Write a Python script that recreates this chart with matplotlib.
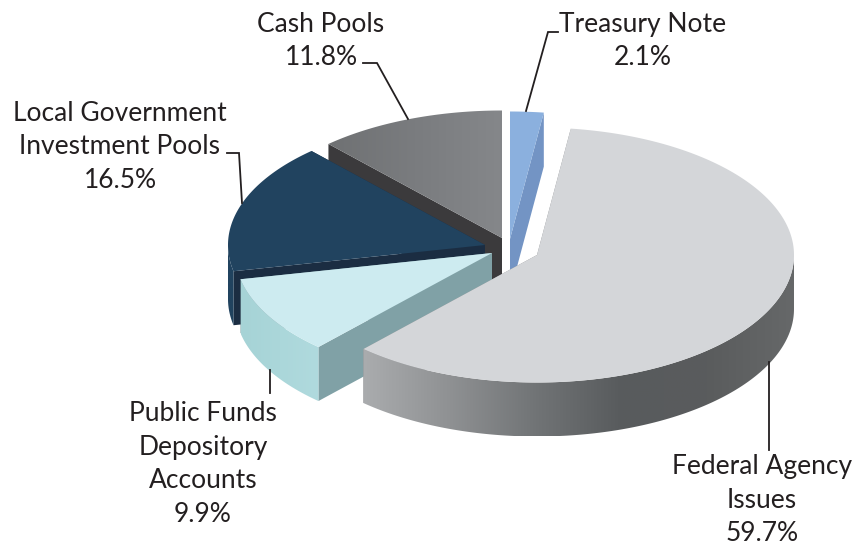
import numpy as np
import matplotlib
matplotlib.use("Agg")
import matplotlib.pyplot as plt
from matplotlib.colors import LinearSegmentedColormap
from matplotlib.patches import Polygon

# Data
categories = ["Treasury Note", "Federal Agency\nIssues", "Public Funds\nDepository\nAccounts",
              "Local Government\nInvestment Pools", "Cash Pools"]
values = [2.1, 59.7, 9.9, 16.5, 11.8]

# Style
apexes = [(510, 239), (537, 255), (492, 253), (485, 245), (502, 238)]
top_stops = [["#8bb0de", "#8bb0de"],
             ["#d4d6d9", "#d4d6d9"],
             ["#cdebf0", "#cdebf0"],
             ["#21435f", "#21435f"],
             ["#6f7173", "#7a7c7f", "#85878a"]]
cut_colors = ["#7394c4", "#8a8c8e", "#80a1a6", "#1b2d42", "#3b3a3c"]
side_stops = [["#7394c4", "#7394c4"],
              ["#aaacae", "#8f9193", "#717476", "#585b5d", "#5a5c5d", "#666869"],
              ["#a6d3d6", "#abd7da", "#b0dade"],
              ["#21435f", "#21435f"],
              ["#555555", "#555555"]]
draw_order = [4, 0, 3, 2, 1]
RX, RY, DEPTH = 257, 127.5, 54

label_pos = [(643, 41), (762, 500), (203, 464), (120, 147), (321, 41)]
leaders = [[(526, 111), (548, 32), (558, 32)],
           [(769, 362), (769, 450)],
           [(270, 370), (270, 393)],
           [(242, 203), (239, 153), (227, 153)],
           [(408, 119), (377, 63), (363, 63)]]
TEXT = "#231f20"

plt.rcParams["font.family"] = ["Lato", "DejaVu Sans"]
fig = plt.figure(figsize=(8.54, 5.46), dpi=100)
ax = fig.add_axes([0, 0, 1, 1])

vals = np.array(values, dtype=float)
edges = np.concatenate([[0], np.cumsum(vals)]) / vals.sum() * 360.0


def rim(cx, cy, a, b, dy=0.0, n=200):
    t = np.radians(np.linspace(a, b, n))
    return np.column_stack([cx + RX * np.sin(t), cy + dy - RY * np.cos(t)])


def shade(outline, stops, zorder):
    """Fill a polygon with a left-to-right colour ramp."""
    poly = Polygon(outline, fc="none", ec="none", zorder=zorder)
    ax.add_patch(poly)
    cmap = LinearSegmentedColormap.from_list("s", stops)
    x0, x1 = outline[:, 0].min(), outline[:, 0].max()
    y0, y1 = outline[:, 1].min(), outline[:, 1].max()
    im = ax.imshow(np.linspace(0, 1, 256)[None, :], cmap=cmap, aspect="auto",
                   extent=(x0, x1, y1, y0), zorder=zorder, interpolation="bilinear")
    im.set_clip_path(poly)


z = 1
for i in draw_order:
    a, b = edges[i], edges[i + 1]
    cx, cy = apexes[i]
    # radial cut faces
    for ang in (a, b):
        p = rim(cx, cy, ang, ang, n=1)[0]
        if abs(p[0] - cx) < 1:
            continue
        ax.add_patch(Polygon([(cx, cy), p, (p[0], p[1] + DEPTH), (cx, cy + DEPTH)],
                             fc=cut_colors[i], ec="none", zorder=z))
    z += 1
    # outer wall, front half only
    lo, hi = max(a, 90), min(b, 270)
    if hi > lo:
        upper = rim(cx, cy, lo, hi)
        lower = rim(cx, cy, lo, hi, DEPTH)[::-1]
        shade(np.vstack([upper, lower]), side_stops[i], z)
        z += 1
    # top face
    top = np.vstack([[(cx, cy)], rim(cx, cy, a, b)])
    if top_stops[i][0] == top_stops[i][-1]:
        ax.add_patch(Polygon(top, fc=top_stops[i][0], ec="none", zorder=z))
    else:
        shade(top, top_stops[i], z)
    z += 1

for pts in leaders:
    xs, ys = zip(*pts)
    ax.plot(xs, ys, color=TEXT, lw=1.3, zorder=z, solid_joinstyle="miter")

for cat, v, (x, y) in zip(categories, values, label_pos):
    ax.text(x, y, f"{cat}\n{v}%", ha="center", va="center", fontsize=19.0,
            color=TEXT, linespacing=1.43, zorder=z + 1)

ax.set_xlim(0, 854)
ax.set_ylim(546, 0)
ax.axis("off")
fig.savefig("out.png", dpi=100, facecolor="white")
